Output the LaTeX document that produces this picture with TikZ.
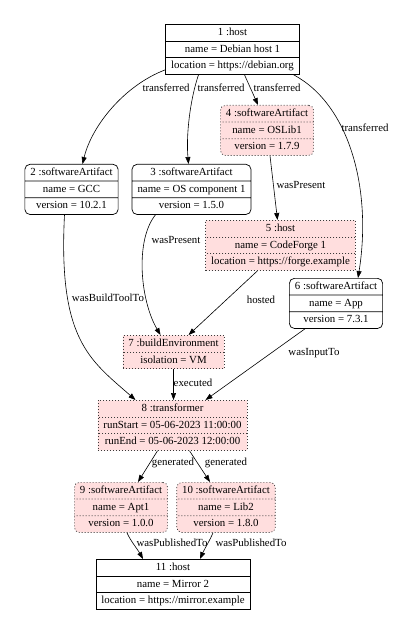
\documentclass[tikz,border=0pt]{standalone}
\usepackage{fontspec}
\setmainfont{Liberation Serif}
\usetikzlibrary{arrows.meta,calc,shapes.multipart,positioning}
\definecolor{Ink}{HTML}{000000}
\definecolor{PinkFill}{HTML}{FFDEDE}
\definecolor{DotGray}{HTML}{3A3A3A}
\newcommand{\rowstrut}{\rule[-3.6pt]{0pt}{12.6pt}}
\tikzset{
  recordbox/.style={rectangle split,rectangle split parts=#1,draw=Ink,fill=white,line width=0.7pt,inner xsep=5.5pt,inner ysep=1.7pt,font=\fontsize{10.85pt}{13pt}\selectfont,anchor=north},
  roundbox/.style={recordbox=#1,rounded corners=5pt},
  pinkbox/.style={recordbox=#1,fill=PinkFill,draw=DotGray,dash pattern=on 1pt off 2pt},
  pinkround/.style={pinkbox=#1,rounded corners=5pt},
  flow/.style={line width=0.6pt,Ink,-{Triangle[length=7pt,width=5pt]}},
  edgelabel/.style={font=\fontsize{10.85pt}{13pt}\selectfont,inner sep=0pt,text=Ink}
}

\begin{document}
\begin{tikzpicture}[x=1pt,y=-1pt]
  \useasboundingbox (0,0) rectangle (415,631);

  % record nodes
  \node[recordbox=3] (n1) at (232.5,24) {\rowstrut 1 :host\nodepart{two}\rowstrut name = Debian host 1\nodepart{three}\rowstrut location = https://debian.org};
  \node[pinkround=3] (n4) at (267,105) {\rowstrut 4 :softwareArtifact\nodepart{two}\rowstrut name = OSLib1\nodepart{three}\rowstrut version = 1.7.9};
  \node[roundbox=3] (n2) at (71.5,164) {\rowstrut 2 :softwareArtifact\nodepart{two}\rowstrut name = GCC\nodepart{three}\rowstrut version = 10.2.1};
  \node[roundbox=3] (n3) at (191.5,164) {\rowstrut 3 :softwareArtifact\nodepart{two}\rowstrut name = OS component 1\nodepart{three}\rowstrut version = 1.5.0};
  \node[pinkbox=3] (n5) at (280.5,220) {\rowstrut 5 :host\nodepart{two}\rowstrut name = CodeForge 1\nodepart{three}\rowstrut location = https://forge.example};
  \node[roundbox=3] (n6) at (336,278) {\rowstrut 6 :softwareArtifact\nodepart{two}\rowstrut name = App\nodepart{three}\rowstrut version = 7.3.1};
  \node[pinkbox=2] (n7) at (173.5,335) {\rowstrut 7 :buildEnvironment\nodepart{two}\rowstrut isolation = VM};
  \node[pinkbox=3] (n8) at (172.5,400) {\rowstrut 8 :transformer\nodepart{two}\rowstrut runStart = 05-06-2023 11:00:00\nodepart{three}\rowstrut runEnd = 05-06-2023 12:00:00};
  \node[pinkround=3] (n9) at (121,482) {\rowstrut 9 :softwareArtifact\nodepart{two}\rowstrut name = Apt1\nodepart{three}\rowstrut version = 1.0.0};
  \node[pinkround=3] (n10) at (226,482) {\rowstrut 10 :softwareArtifact\nodepart{two}\rowstrut name = Lib2\nodepart{three}\rowstrut version = 1.8.0};
  \node[recordbox=3] (n11) at (173,559) {\rowstrut 11 :host\nodepart{two}\rowstrut name = Mirror 2\nodepart{three}\rowstrut location = https://mirror.example};

  % connectors
  \draw[flow] ([yshift=5pt]n1.south west) .. controls (125,85) and (92,125) .. ([xshift=11pt]n2.north);
  \draw[flow] ([xshift=-34pt]n1.south) .. controls (190,100) and (186,135) .. ([xshift=-3pt]n3.north);
  \draw[flow] ([xshift=12pt]n1.south) -- ([xshift=-9pt]n4.north);
  \draw[flow] ([xshift=-6pt]n1.south east) .. controls (350,105) and (372,190) .. ([xshift=22pt]n6.north);
  \draw[flow] ([xshift=3pt]n4.south) -- ([xshift=-3pt]n5.north);
  \draw[flow] ([xshift=-36pt]n3.south) .. controls (135,240) and (140,300) .. ([xshift=-13pt]n7.north);
  \draw[flow] ([xshift=-23pt]n5.south) -- ([xshift=15pt]n7.north);
  \draw[flow] ([xshift=-7pt]n2.south) .. controls (58,340) and (90,360) .. ([xshift=-37pt]n8.north);
  \draw[flow] (n7.south) -- (n7.south |- n8.north);
  \draw[flow] ([xshift=-31pt]n6.south) -- ([xshift=33pt]n8.north);
  \draw[flow] ([xshift=-15pt]n8.south) -- ([xshift=17pt]n9.north);
  \draw[flow] ([xshift=17pt]n8.south) -- ([xshift=-16pt]n10.north);
  \draw[flow] ([xshift=6pt]n9.south) .. controls (130,540) and (138,550) .. ([xshift=-30pt]n11.north);
  \draw[flow] ([xshift=-13pt]n10.south) .. controls (210,540) and (204,550) .. ([xshift=27pt]n11.north);

  % edge labels
  \node[edgelabel] (l12) at (166,88) {transferred};
  \node[edgelabel] (l13) at (221,88) {transferred};
  \node[edgelabel] (l14) at (277,88) {transferred};
  \node[edgelabel] (l16) at (365,128) {transferred};
  \node[edgelabel] (l45) at (301,185) {wasPresent};
  \node[edgelabel] (l37) at (176,240) {wasPresent};
  \node[edgelabel] (l57) at (261,300) {hosted};
  \node[edgelabel] (l28) at (108,298) {wasBuildToolTo};
  \node[edgelabel] (l68) at (314,353) {wasInputTo};
  \node[edgelabel] (l78) at (193,383) {executed};
  \node[edgelabel] (l89) at (173,463) {generated};
  \node[edgelabel] (l810) at (226,463) {generated};
  \node[edgelabel] (l911) at (172,543) {wasPublishedTo};
  \node[edgelabel] (l1011) at (251,543) {wasPublishedTo};
\end{tikzpicture}
\end{document}
